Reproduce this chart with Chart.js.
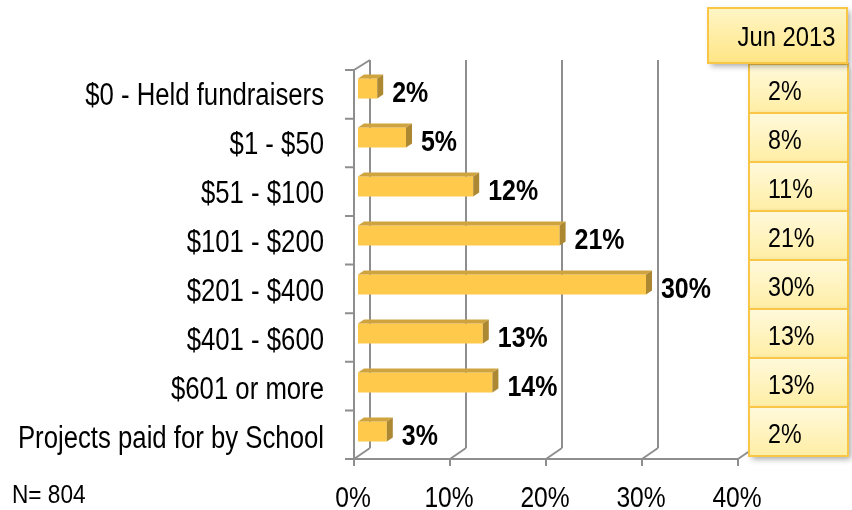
<!DOCTYPE html>
<html>
<head>
<meta charset="utf-8">
<script src="https://cdn.jsdelivr.net/npm/chart.js@4.4.1/dist/chart.umd.min.js"></script>
<style>
  html, body { margin: 0; padding: 0; background: #fff; }
  canvas { display: block; }
</style>
</head>
<body>
<canvas id="chart" width="852" height="510"></canvas>
<script>
const categories = [
  '$0 - Held fundraisers',
  '$1 - $50',
  '$51 - $100',
  '$101 - $200',
  '$201 - $400',
  '$401 - $600',
  '$601 or more',
  'Projects paid for by School'
];
const currentValues = [2, 5, 12, 21, 30, 13, 14, 3];
const jun2013Values = [2, 8, 11, 21, 30, 13, 13, 2];
const tableTitle = 'Jun 2013';
const xTicks = [0, 10, 20, 30, 40];
const sampleNote = 'N= 804';

const FONT = '"Liberation Sans", Arial, sans-serif';
const GRID = '#8e8e8e';

// fake 3D box: front edge and back wall offsets from the chart area
const FRONT = { dx: -4, dyTop: 6, dyBot: 3 };
const BACK = { dx: 12, dyTop: -4, dyBot: -8 };
const BAR_DEPTH = { dx: 6, dy: -4 };

// the original uses a narrow face, so squeeze Liberation Sans horizontally
function narrowText(ctx, text, x, y, align, font, squeeze) {
  ctx.save();
  ctx.translate(x, y);
  ctx.scale(squeeze, 1);
  ctx.font = font;
  ctx.fillStyle = '#000';
  ctx.textAlign = align;
  ctx.textBaseline = 'alphabetic';
  ctx.fillText(text, 0, 0);
  ctx.restore();
}

const frame3d = {
  id: 'frame3d',
  beforeDatasetsDraw(chart) {
    const { ctx, chartArea: ca, scales: { x, y } } = chart;
    const fTop = ca.top + FRONT.dyTop, fBot = ca.bottom + FRONT.dyBot;
    const bTop = ca.top + BACK.dyTop, bBot = ca.bottom + BACK.dyBot;
    ctx.save();
    ctx.strokeStyle = GRID;
    ctx.lineWidth = 2;
    ctx.beginPath();
    xTicks.forEach(v => {
      const px = x.getPixelForValue(v);
      ctx.moveTo(px + BACK.dx, bBot);
      ctx.lineTo(px + BACK.dx, bTop);
      ctx.moveTo(px + FRONT.dx, fBot);
      ctx.lineTo(px + BACK.dx, bBot);
      ctx.moveTo(px + FRONT.dx, fBot);
      ctx.lineTo(px + FRONT.dx, fBot + 7);
    });
    const x0 = x.getPixelForValue(0);
    const xMax = x.getPixelForValue(xTicks[xTicks.length - 1]);
    ctx.moveTo(x0 + FRONT.dx, fBot);
    ctx.lineTo(xMax + FRONT.dx, fBot);
    ctx.moveTo(x0 + FRONT.dx, fBot);
    ctx.lineTo(x0 + FRONT.dx, fTop);
    ctx.lineTo(x0 + BACK.dx, bTop);
    for (let i = 0; i <= categories.length; i++) {
      const ty = fTop + (fBot - fTop) * i / categories.length;
      ctx.moveTo(x0 + FRONT.dx, ty);
      ctx.lineTo(x0 + FRONT.dx - 9, ty);
    }
    ctx.stroke();
    ctx.restore();

    // axis labels
    categories.forEach((c, i) => {
      narrowText(ctx, c, 324, y.getPixelForValue(i) + 16.5, 'right', '31px ' + FONT, 0.83);
    });
    xTicks.forEach(v => {
      narrowText(ctx, v + '%', x.getPixelForValue(v) + FRONT.dx - 1, 507, 'center', '30px ' + FONT, 0.82);
    });
    narrowText(ctx, sampleNote, 12, 503, 'left', '26px ' + FONT, 0.87);
  },
  afterDatasetsDraw(chart) {
    const { ctx } = chart;
    const meta = chart.getDatasetMeta(0);
    ctx.save();
    meta.data.forEach((bar, i) => {
      const { x, y, base, height } = bar.getProps(['x', 'y', 'base', 'height'], true);
      const top = y - height / 2, bot = y + height / 2;
      const { dx, dy } = BAR_DEPTH;
      ctx.fillStyle = '#cfa43f';
      ctx.beginPath();
      ctx.moveTo(base, top);
      ctx.lineTo(x, top);
      ctx.lineTo(x + dx, top + dy);
      ctx.lineTo(base + dx, top + dy);
      ctx.closePath();
      ctx.fill();
      ctx.fillStyle = '#ad8833';
      ctx.beginPath();
      ctx.moveTo(x, top);
      ctx.lineTo(x + dx, top + dy);
      ctx.lineTo(x + dx, bot + dy);
      ctx.lineTo(x, bot);
      ctx.closePath();
      ctx.fill();
      narrowText(ctx, currentValues[i] + '%', x + dx + 9, y + 13, 'left', 'bold 29px ' + FONT, 0.86);
    });
    ctx.restore();
  },
  afterDraw(chart) {
    const { ctx, scales: { y } } = chart;
    const band = y.getPixelForValue(1) - y.getPixelForValue(0);
    ctx.save();
    const cx0 = 749, cx1 = 848;
    jun2013Values.forEach((v, i) => {
      const cy = y.getPixelForValue(i);
      const t = cy - band / 2, b = cy + band / 2;
      ctx.save();
      ctx.shadowColor = 'rgba(0,0,0,0.35)';
      ctx.shadowBlur = 6;
      ctx.shadowOffsetX = 3;
      ctx.shadowOffsetY = 3;
      const g = ctx.createLinearGradient(0, t, 0, b);
      g.addColorStop(0, '#fff9dc');
      g.addColorStop(1, '#ffeea4');
      ctx.fillStyle = g;
      ctx.fillRect(cx0, t, cx1 - cx0, b - t);
      ctx.restore();
      ctx.strokeStyle = '#f9c646';
      ctx.lineWidth = 2;
      ctx.strokeRect(cx0, t, cx1 - cx0, b - t);
      narrowText(ctx, v + '%', 768, cy + 11, 'left', '28px ' + FONT, 0.83);
    });
    // header box
    const hx0 = 708, hx1 = 847, hy0 = 8, hy1 = 63;
    ctx.save();
    ctx.shadowColor = 'rgba(0,0,0,0.35)';
    ctx.shadowBlur = 6;
    ctx.shadowOffsetX = 3;
    ctx.shadowOffsetY = 3;
    const hg = ctx.createLinearGradient(0, hy0, 0, hy1);
    hg.addColorStop(0, '#fff6c6');
    hg.addColorStop(1, '#ffe585');
    ctx.fillStyle = hg;
    ctx.fillRect(hx0, hy0, hx1 - hx0, hy1 - hy0);
    ctx.restore();
    ctx.strokeStyle = '#f9c646';
    ctx.lineWidth = 2;
    ctx.strokeRect(hx0, hy0, hx1 - hx0, hy1 - hy0);
    narrowText(ctx, tableTitle, (hx0 + hx1) / 2 + 9, 46, 'center', '28px ' + FONT, 0.85);
    ctx.restore();
  }
};

new Chart(document.getElementById('chart'), {
  type: 'bar',
  data: {
    labels: categories,
    datasets: [{
      data: currentValues,
      backgroundColor: '#ffc94c',
      borderWidth: 0,
      barPercentage: 0.41,
      categoryPercentage: 1
    }]
  },
  options: {
    indexAxis: 'y',
    responsive: false,
    animation: false,
    events: [],
    layout: { padding: { top: 64, right: 110, left: 0, bottom: 0 } },
    plugins: { legend: { display: false }, tooltip: { enabled: false } },
    scales: {
      x: {
        min: 0,
        max: 40,
        afterFit: s => { s.height = 54; },
        grid: { display: false },
        border: { display: false },
        ticks: { display: false, stepSize: 10 }
      },
      y: {
        afterFit: s => { s.width = 358; },
        grid: { display: false },
        border: { display: false },
        ticks: { display: false }
      }
    }
  },
  plugins: [frame3d]
});
</script>
</body>
</html>
